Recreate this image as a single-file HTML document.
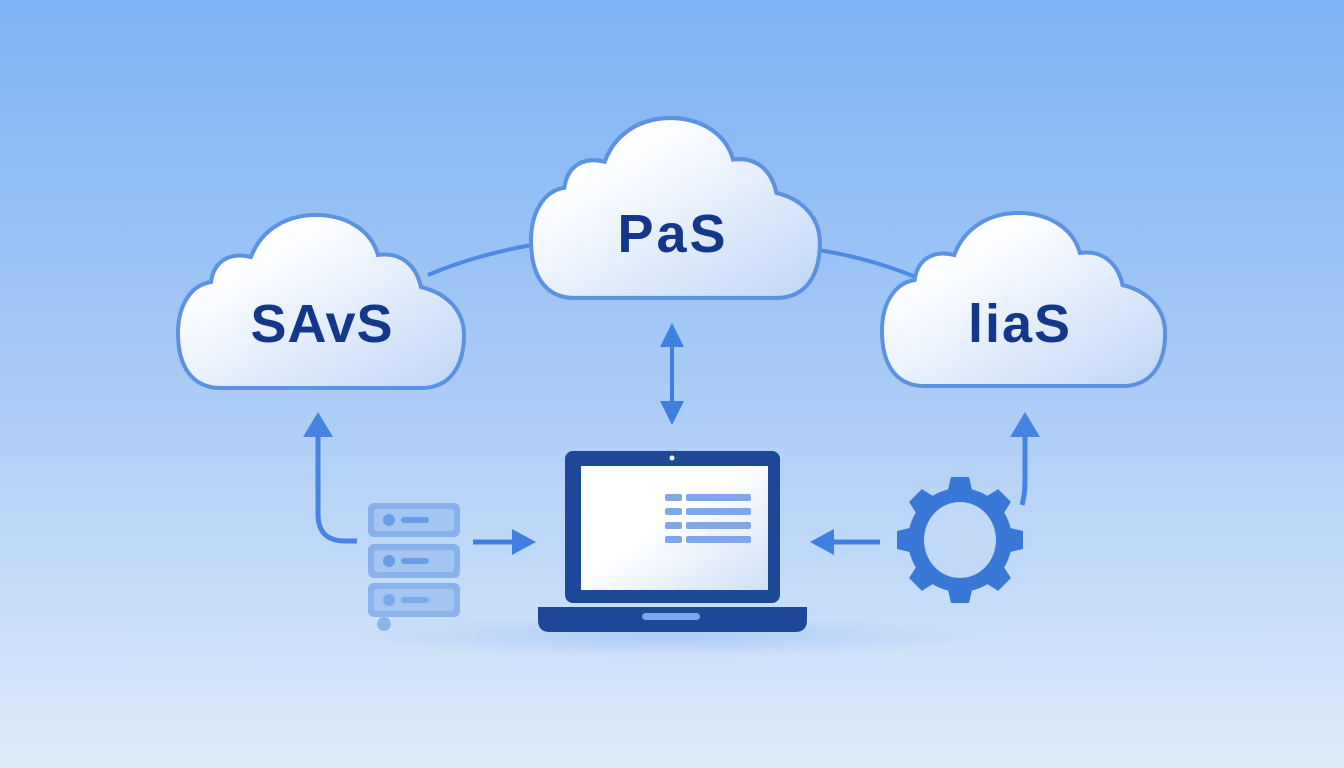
<!DOCTYPE html>
<html><head><meta charset="utf-8"><style>
html,body{margin:0;padding:0;width:1344px;height:768px;overflow:hidden}
svg{display:block}
text{font-family:"Liberation Sans","DejaVu Sans",sans-serif;font-weight:bold;fill:#14378a}
</style></head><body>
<svg width="1344" height="768" viewBox="0 0 1344 768" xmlns="http://www.w3.org/2000/svg">
<defs>
<linearGradient id="bg" x1="0" y1="0" x2="0" y2="1">
<stop offset="0" stop-color="#7fb1f5"/><stop offset="0.5" stop-color="#a9cbf6"/><stop offset="1" stop-color="#deebfa"/>
</linearGradient>
<linearGradient id="cf" x1="0" y1="0" x2="1" y2="1">
<stop offset="0.25" stop-color="#ffffff"/><stop offset="1" stop-color="#bfd6f7"/>
</linearGradient>
<linearGradient id="scr" x1="0" y1="0" x2="1" y2="1">
<stop offset="0.45" stop-color="#ffffff"/><stop offset="1" stop-color="#cfe0f8"/>
</linearGradient>
<radialGradient id="sh" cx="0.5" cy="0.5" r="0.5">
<stop offset="0" stop-color="#9cc0f2" stop-opacity="0.6"/><stop offset="1" stop-color="#9cc0f2" stop-opacity="0"/>
</radialGradient>
<path id="cloud" d="M45 173 C15 173 2 150 2 118 C2 90 15 70 35 67 C38 45 55 37 75 42 C85 15 110 0 140 0 C170 0 195 15 202 40 C225 37 240 50 245 72 C270 78 288 95 288 120 C288 150 275 173 245 173 Z"/>
</defs>
<rect width="1344" height="768" fill="url(#bg)"/>
<ellipse cx="670" cy="636" rx="320" ry="22" fill="url(#sh)"/>

<path d="M428 275 Q475 255 532 245" stroke="#4f89e0" stroke-width="4" fill="none"/>
<path d="M818 250 Q870 258 918 278" stroke="#4f89e0" stroke-width="4" fill="none"/>

<g transform="translate(176,215)"><use href="#cloud" fill="url(#cf)" stroke="#5b93e0" stroke-width="4"/></g>
<g transform="translate(529,118) scale(1.01,1.04)"><use href="#cloud" fill="url(#cf)" stroke="#5b93e0" stroke-width="4"/></g>
<g transform="translate(880,213) scale(0.99,1.0)"><use href="#cloud" fill="url(#cf)" stroke="#5b93e0" stroke-width="4"/></g>
<text x="322" y="342" font-size="54" letter-spacing="1" text-anchor="middle">SAvS</text>
<text x="673" y="252" font-size="54" letter-spacing="3" text-anchor="middle">PaS</text>
<text x="1020" y="342" font-size="54" letter-spacing="2" text-anchor="middle">liaS</text>

<line x1="672" y1="340" x2="672" y2="408" stroke="#3f7fe0" stroke-width="4"/>
<polygon points="672,323 660,347 684,347" fill="#3f7fe0"/>
<polygon points="672,425 660,401 684,401" fill="#3f7fe0"/>

<path d="M357 541 L345 541 Q318 541 318 514 L318 432" stroke="#4683e2" stroke-width="5" fill="none"/>
<polygon points="318,412 303,437 333,437" fill="#4683e2"/>
<path d="M1022 505 Q1025 495 1025 480 L1025 432" stroke="#4683e2" stroke-width="5" fill="none"/>
<polygon points="1025,412 1010,437 1040,437" fill="#4683e2"/>

<g opacity="0.55" fill="#5b93e0">
<rect x="368" y="503" width="92" height="34" rx="6"/>
<rect x="368" y="544" width="92" height="34" rx="6"/>
<rect x="368" y="583" width="92" height="34" rx="6"/>
<circle cx="384" cy="624" r="7"/>
</g>
<g fill="#a9c9f4" opacity="0.85">
<rect x="374" y="509" width="80" height="22" rx="3"/>
<rect x="374" y="550" width="80" height="22" rx="3"/>
<rect x="374" y="589" width="80" height="22" rx="3"/>
</g>
<g fill="#6b9de6">
<circle cx="389" cy="520" r="6"/><rect x="401" y="517" width="28" height="6" rx="3"/>
<circle cx="389" cy="561" r="6"/><rect x="401" y="558" width="28" height="6" rx="3"/>
<circle cx="389" cy="600" r="6" opacity="0.7"/><rect x="401" y="597" width="28" height="6" rx="3" opacity="0.7"/>
</g>

<line x1="473" y1="542" x2="515" y2="542" stroke="#3f7fe0" stroke-width="5"/>
<polygon points="536,542 512,529 512,555" fill="#3f7fe0"/>
<line x1="880" y1="542" x2="832" y2="542" stroke="#3f7fe0" stroke-width="5"/>
<polygon points="810,542 834,529 834,555" fill="#3f7fe0"/>

<rect x="565" y="451" width="215" height="152" rx="8" fill="#1d4797"/>
<rect x="581" y="466" width="187" height="124" fill="url(#scr)"/>
<circle cx="672" cy="458" r="2.5" fill="#ffffff"/>
<path d="M538 607 L807 607 L807 620 Q807 632 795 632 L550 632 Q538 632 538 620 Z" fill="#1d4797"/>
<rect x="642" y="613" width="58" height="7" rx="3.5" fill="#7ea6ea"/>
<g fill="#7ea8ea">
<rect x="665" y="494" width="17" height="7" rx="2"/><rect x="686" y="494" width="65" height="7" rx="2"/>
<rect x="665" y="508" width="17" height="7" rx="2"/><rect x="686" y="508" width="65" height="7" rx="2"/>
<rect x="665" y="522" width="17" height="7" rx="2"/><rect x="686" y="522" width="65" height="7" rx="2"/>
<rect x="665" y="536" width="17" height="7" rx="2"/><rect x="686" y="536" width="65" height="7" rx="2"/>
</g>

<g transform="translate(960,540)" fill="#3a78d8">
<circle r="52"/>
<g id="t"><path d="M-13 -46 L-9 -63 L9 -63 L13 -46 Z"/></g>
<use href="#t" transform="rotate(45)"/><use href="#t" transform="rotate(90)"/><use href="#t" transform="rotate(135)"/>
<use href="#t" transform="rotate(180)"/><use href="#t" transform="rotate(225)"/><use href="#t" transform="rotate(270)"/><use href="#t" transform="rotate(315)"/>
<ellipse rx="36" ry="38" fill="#c2d9f7"/>
</g>
</svg>
</body></html>
